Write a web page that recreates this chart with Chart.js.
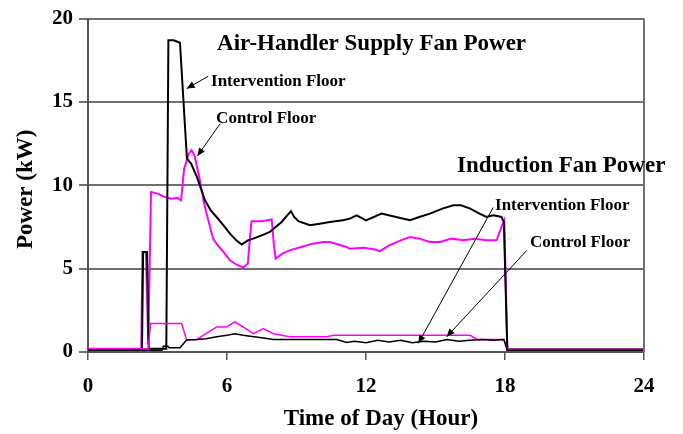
<!DOCTYPE html>
<html>
<head>
<meta charset="utf-8">
<script src="https://cdn.jsdelivr.net/npm/chart.js@4"></script>
<style>
  body { margin: 0; background: #fff; }
</style>
</head>
<body>
<canvas id="fanChart" width="683" height="434"></canvas>
<script>
// Air-handler supply fan, intervention floor (black)
const ahuIntHours = [0, 2.33, 2.38, 2.55, 2.62, 3.38, 3.47, 3.7, 3.97, 4.27, 4.45, 4.7, 5.05, 5.3, 5.55, 5.85, 6.13, 6.4, 6.63, 6.9, 7.13, 7.5, 7.85, 8.1, 8.36, 8.6, 8.76, 8.9, 9.08, 9.58, 10.0, 10.44, 11.0, 11.3, 11.6, 12.0, 12.67, 13.3, 13.9, 14.3, 14.76, 15.3, 15.77, 16.1, 16.5, 16.9, 17.2, 17.5, 17.85, 17.95, 18.1, 24];
const ahuIntKw    = [0.15, 0.15, 6.0, 6.0, 0.2, 0.2, 18.7, 18.7, 18.55, 11.6, 11.3, 10.5, 9.1, 8.5, 8.1, 7.6, 7.1, 6.7, 6.45, 6.7, 6.8, 7.0, 7.2, 7.5, 7.8, 8.2, 8.45, 8.1, 7.85, 7.6, 7.7, 7.8, 7.9, 8.0, 8.2, 7.9, 8.3, 8.1, 7.9, 8.1, 8.3, 8.6, 8.8, 8.8, 8.6, 8.3, 8.1, 8.2, 8.1, 7.8, 0.15, 0.15];

// Air-handler supply fan, control floor (magenta)
const ahuCtlHours = [0, 2.3, 2.35, 2.5, 2.6, 2.72, 3.0, 3.3, 3.6, 3.85, 4.02, 4.15, 4.35, 4.47, 4.6, 4.83, 5.0, 5.12, 5.4, 5.6, 5.85, 6.13, 6.4, 6.7, 6.9, 7.0, 7.06, 7.5, 7.93, 8.02, 8.1, 8.4, 8.7, 9.2, 9.7, 10.15, 10.44, 11.16, 11.3, 11.9, 12.4, 12.6, 13.0, 13.5, 13.9, 14.3, 14.76, 15.2, 15.7, 16.2, 16.7, 17.2, 17.64, 17.85, 17.97, 18.1, 24];
const ahuCtlKw    = [0.2, 0.2, 6.0, 6.0, 0.5, 9.6, 9.5, 9.3, 9.2, 9.25, 9.1, 11.0, 11.9, 12.1, 11.8, 10.3, 9.0, 8.3, 6.8, 6.4, 6.0, 5.5, 5.25, 5.07, 5.3, 7.0, 7.84, 7.85, 7.95, 6.5, 5.6, 5.9, 6.1, 6.3, 6.5, 6.6, 6.6, 6.3, 6.2, 6.25, 6.15, 6.05, 6.4, 6.7, 6.9, 6.8, 6.6, 6.6, 6.8, 6.7, 6.8, 6.7, 6.7, 7.5, 7.9, 0.15, 0.15];

// Induction fans, intervention floor (black)
const indIntHours = [0, 3.2, 3.25, 3.45, 3.5, 3.97, 4.26, 4.7, 5.1, 5.55, 6.0, 6.34, 6.7, 7.0, 7.5, 8.0, 9.0, 10.0, 10.73, 11.17, 11.5, 12.0, 12.5, 13.0, 13.5, 14.0, 14.5, 15.0, 15.5, 16.0, 16.5, 17.0, 17.5, 17.95, 18.1, 24];
const indIntKw    = [0.1, 0.1, 0.35, 0.35, 0.25, 0.25, 0.72, 0.75, 0.8, 0.91, 1.0, 1.1, 1.0, 0.95, 0.85, 0.75, 0.75, 0.75, 0.75, 0.57, 0.65, 0.55, 0.7, 0.6, 0.7, 0.55, 0.65, 0.6, 0.75, 0.65, 0.7, 0.75, 0.7, 0.75, 0.1, 0.1];

// Induction fans, control floor (magenta)
const indCtlHours = [0, 2.6, 2.7, 4.04, 4.26, 4.7, 5.1, 5.55, 5.98, 6.34, 6.7, 7.13, 7.57, 8.0, 8.72, 10.3, 10.6, 16.5, 16.8, 17.95, 18.1, 24];
const indCtlKw    = [0.2, 0.2, 1.71, 1.71, 0.72, 0.75, 1.1, 1.5, 1.5, 1.81, 1.5, 1.1, 1.41, 1.1, 0.91, 0.91, 1.0, 1.0, 0.75, 0.75, 0.15, 0.15];

const xTicks = [0, 6, 12, 18, 24];
const yTicks = [0, 5, 10, 15, 20];

// text labels and arrows, placed in data units (hour, kW)
const notes = [
  { text: 'Air-Handler Supply Fan Power', hour: 5.57, kw: 18.45, size: 23 },
  { text: 'Intervention Floor', hour: 5.31, kw: 16.24, size: 17 },
  { text: 'Control Floor', hour: 5.53, kw: 14.03, size: 17 },
  { text: 'Induction Fan Power', hour: 15.93, kw: 11.16, size: 23 },
  { text: 'Intervention Floor', hour: 17.57, kw: 8.78, size: 17 },
  { text: 'Control Floor', hour: 19.08, kw: 6.57, size: 17 }
];
const arrows = [
  { from: [5.19, 16.54], to: [4.26, 15.8] },
  { from: [5.70, 13.69], to: [4.72, 11.76] },
  { from: [17.49, 8.67], to: [14.26, 0.52] },
  { from: [18.94, 6.09], to: [15.48, 0.91] }
];

function pairs(hours, kw) {
  return hours.map((h, i) => ({ x: h, y: kw[i] }));
}

const serif = '"Liberation Serif", "Times New Roman", serif';

const notesPlugin = {
  id: 'notes',
  afterDatasetsDraw(chart) {
    const { ctx, chartArea, scales: { x, y } } = chart;
    ctx.save();
    // right frame line
    ctx.strokeStyle = '#707070';
    ctx.lineWidth = 2;
    ctx.beginPath();
    ctx.moveTo(chartArea.right, chartArea.top);
    ctx.lineTo(chartArea.right, chartArea.bottom);
    ctx.stroke();

    ctx.fillStyle = '#000';
    ctx.textBaseline = 'middle';
    ctx.textAlign = 'left';
    notes.forEach(n => {
      ctx.font = 'bold ' + n.size + 'px ' + serif;
      ctx.fillText(n.text, x.getPixelForValue(n.hour), y.getPixelForValue(n.kw));
    });

    // axis titles (the original sits a little right of / below centre)
    ctx.font = 'bold 23px ' + serif;
    ctx.textAlign = 'center';
    ctx.fillText('Time of Day (Hour)', (chartArea.left + chartArea.right) / 2 + 15, 419);
    ctx.save();
    ctx.translate(26, (chartArea.top + chartArea.bottom) / 2 + 4);
    ctx.rotate(-Math.PI / 2);
    ctx.fillText('Power (kW)', 0, 0);
    ctx.restore();

    ctx.strokeStyle = '#000';
    ctx.lineWidth = 1;
    arrows.forEach(a => {
      const x0 = x.getPixelForValue(a.from[0]), y0 = y.getPixelForValue(a.from[1]);
      const x1 = x.getPixelForValue(a.to[0]), y1 = y.getPixelForValue(a.to[1]);
      ctx.beginPath();
      ctx.moveTo(x0, y0);
      ctx.lineTo(x1, y1);
      ctx.stroke();
      const ang = Math.atan2(y1 - y0, x1 - x0);
      const len = 8, half = 3.5;
      ctx.beginPath();
      ctx.moveTo(x1, y1);
      ctx.lineTo(x1 - len * Math.cos(ang) + half * Math.sin(ang), y1 - len * Math.sin(ang) - half * Math.cos(ang));
      ctx.lineTo(x1 - len * Math.cos(ang) - half * Math.sin(ang), y1 - len * Math.sin(ang) + half * Math.cos(ang));
      ctx.closePath();
      ctx.fill();
    });
    ctx.restore();
  }
};

const ctx = document.getElementById('fanChart').getContext('2d');

new Chart(ctx, {
  type: 'line',
  data: {
    datasets: [
      {
        label: 'Induction - Intervention Floor',
        data: pairs(indIntHours, indIntKw),
        borderColor: '#000000',
        borderWidth: 1.5
      },
      {
        label: 'Induction - Control Floor',
        data: pairs(indCtlHours, indCtlKw),
        borderColor: '#ff00ff',
        borderWidth: 1.5
      },
      {
        label: 'Supply Fan - Intervention Floor',
        data: pairs(ahuIntHours, ahuIntKw),
        borderColor: '#000000',
        borderWidth: 2
      },
      {
        label: 'Supply Fan - Control Floor',
        data: pairs(ahuCtlHours, ahuCtlKw),
        borderColor: '#ff00ff',
        borderWidth: 2
      }
    ]
  },
  options: {
    responsive: false,
    animation: false,
    elements: {
      point: { radius: 0 },
      line: { tension: 0, fill: false }
    },
    layout: {
      padding: { top: 17, right: 39, left: 0, bottom: 0 }
    },
    scales: {
      x: {
        type: 'linear',
        min: 0,
        max: 24,
        afterFit: s => { s.height = 82; },
        afterBuildTicks: s => { s.ticks = xTicks.map(v => ({ value: v })); },
        ticks: {
          padding: 14,
          color: '#000',
          font: { family: serif, size: 21, weight: 'bold' }
        },
        grid: {
          drawOnChartArea: false,
          drawTicks: true,
          tickLength: 8,
          color: '#555',
          lineWidth: 1.5
        },
        border: { color: '#555', width: 2 }
      },
      y: {
        type: 'linear',
        min: 0,
        max: 20,
        afterFit: s => { s.width = 88; },
        afterBuildTicks: s => { s.ticks = yTicks.map(v => ({ value: v })); },
        ticks: {
          padding: 6,
          color: '#000',
          font: { family: serif, size: 21, weight: 'bold' }
        },
        grid: {
          color: '#707070',
          lineWidth: 2,
          tickLength: 9
        },
        border: { color: '#555', width: 2 }
      }
    },
    plugins: {
      legend: { display: false },
      tooltip: { enabled: false }
    }
  },
  plugins: [notesPlugin]
});
</script>
</body>
</html>
